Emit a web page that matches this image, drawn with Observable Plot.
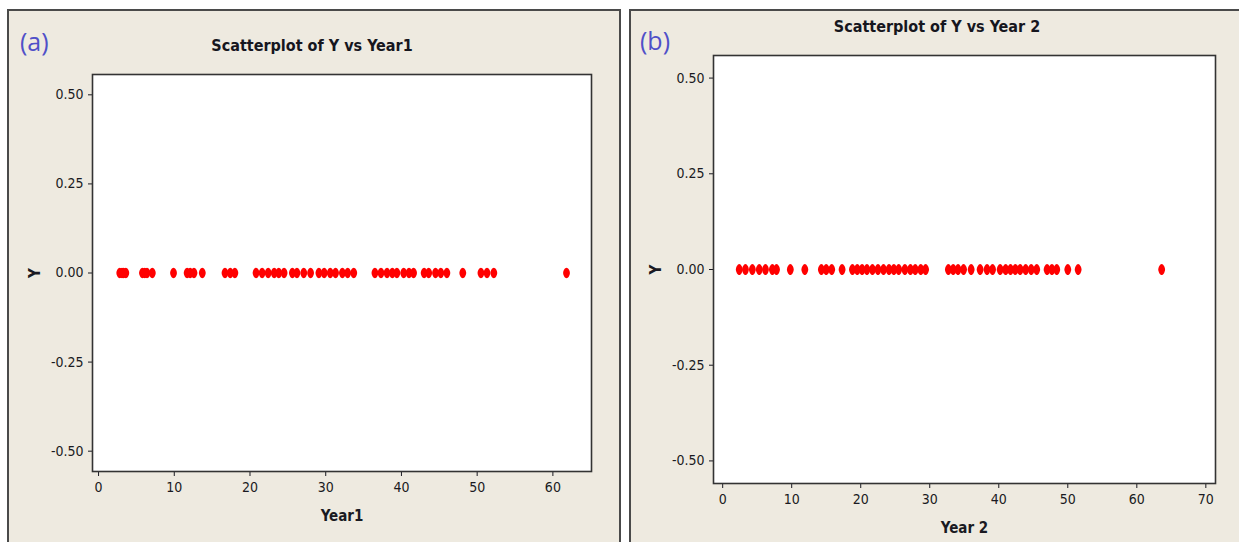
<!DOCTYPE html>
<html>
<head>
<meta charset="utf-8">
<script src="https://cdn.jsdelivr.net/npm/d3@7"></script>
<script src="https://cdn.jsdelivr.net/npm/@observablehq/plot@0.6"></script>
<style>
  html, body { margin: 0; padding: 0; background: #fff; }
  body { width: 1239px; height: 542px; overflow: hidden; position: relative;
         font-family: "Liberation Sans Narrow", "DejaVu Sans Condensed", "Roboto", sans-serif; }
  .panel { position: absolute; background: #EEEAE0; border: 2px solid #4a4a4a; box-sizing: border-box; }
  #pa { left: 7px; top: 9px; width: 614px; height: 545px; }
  #pb { left: 629px; top: 9px; width: 620px; height: 545px; }
  .tag { position: absolute; color: #5050c8; font-family: "Liberation Sans Narrow", "Open Sans", sans-serif; font-size: 25px; line-height: 1; }
  .title { position: absolute; font-weight: bold; font-size: 16px; color: #16161e; line-height: 1; white-space: nowrap; transform: translateX(-50%); }
  .chart { position: absolute; top: 0; }
  .chart svg { overflow: visible; }
  g[aria-label="x-axis label"] text, g[aria-label="y-axis label"] text { font-weight: bold; font-size: 15px; }
</style>
</head>
<body>
<div class="panel" id="pa"></div>
<div class="panel" id="pb"></div>
<div class="tag" style="left:20px;top:29px;">(a)</div>
<div class="tag" style="left:640px;top:28px;">(b)</div>
<div class="title" style="left:312px;top:38px;">Scatterplot of Y vs Year1</div>
<div class="title" style="left:937px;top:19px;">Scatterplot of Y vs Year 2</div>
<div class="chart" id="ca" style="left:0px;"></div>
<div class="chart" id="cb" style="left:620px;"></div>
<script>
// ---- data ----
const year1 = [2.8, 3.1, 3.3, 3.6, 5.8, 6.1, 6.4, 7.1, 9.9, 11.7, 12.1, 12.6, 13.7,
  16.7, 17.4, 18.0, 20.8, 21.6, 22.4, 23.2, 23.8, 24.5, 25.6, 26.2, 27.1, 28.0,
  29.1, 29.8, 30.6, 31.3, 32.2, 32.9, 33.7, 36.5, 37.3, 38.1, 38.8, 39.4, 40.3,
  41.0, 41.6, 43.0, 43.6, 44.5, 45.2, 46.0, 48.1, 50.5, 51.3, 52.2, 61.8];
const year2 = [2.4, 3.3, 4.3, 5.3, 6.2, 7.2, 7.8, 9.8, 11.9, 14.3, 15.0, 15.8, 17.3,
  18.8, 19.5, 20.2, 20.9, 21.7, 22.5, 23.3, 24.1, 24.8, 25.5, 26.4, 27.2, 27.9,
  28.7, 29.4, 32.7, 33.4, 34.1, 34.9, 36.0, 37.3, 38.3, 39.1, 40.2, 41.0, 41.7,
  42.4, 43.1, 43.9, 44.7, 45.5, 47.0, 47.7, 48.4, 50.0, 51.5, 63.6];
const yValue = 0; // every observation has Y = 0.00
const xTicksA = [0, 10, 20, 30, 40, 50, 60];
const xTicksB = [0, 10, 20, 30, 40, 50, 60, 70];
const yTicks = [-0.5, -0.25, 0, 0.25, 0.5];

const rowsA = year1.map(v => ({year: v, y: yValue}));
const rowsB = year2.map(v => ({year: v, y: yValue}));

const FONT = '"Liberation Sans Narrow", "DejaVu Sans Condensed", "Roboto", sans-serif';

function lemonSymbol(rx, ry) {
  const kx = 0.5, ky = 0.42;
  return {
    draw(ctx) {
      ctx.moveTo(rx, 0);
      ctx.bezierCurveTo(rx, ry * ky, rx * kx, ry, 0, ry);
      ctx.bezierCurveTo(-rx * kx, ry, -rx, ry * ky, -rx, 0);
      ctx.bezierCurveTo(-rx, -ry * ky, -rx * kx, -ry, 0, -ry);
      ctx.bezierCurveTo(rx * kx, -ry, rx, -ry * ky, rx, 0);
      ctx.closePath();
    }
  };
}

function makeChart(rows, opts) {
  return Plot.plot({
    width: opts.width, height: 542,
    marginLeft: opts.ml, marginRight: opts.mr, marginTop: opts.mt, marginBottom: opts.mb,
    style: {background: "transparent", fontFamily: FONT, fontSize: "14px", color: "#1a1a22"},
    x: {domain: opts.xDomain},
    y: {domain: opts.yDomain},
    marks: [
      Plot.frame({fill: "white", stroke: "none"}),
      Plot.axisX({ticks: opts.xTicks, tickSize: 5, tickPadding: 6, tickFormat: d => String(d),
        fontSize: 14, label: opts.xLabel, labelAnchor: "center", labelOffset: 49, labelArrow: "none"}),
      Plot.axisY({ticks: yTicks, tickSize: 4, tickPadding: 5, tickFormat: d => d.toFixed(2),
        fontSize: 14, label: "Y", labelAnchor: "center", labelOffset: opts.yLabelOffset, labelArrow: "none"}),
      Plot.dot(rows, {x: "year", y: "y", symbol: lemonSymbol(opts.rx, opts.ry), r: 3,
        fill: "#ff0000", stroke: "none"}),
      Plot.frame({stroke: "#333", strokeWidth: 1.6})
    ]
  });
}

document.getElementById("ca").append(makeChart(rowsA, {
  width: 620, ml: 92, mr: 29, mt: 74, mb: 71,
  xDomain: [-0.8, 65.1], yDomain: [-0.557, 0.557],
  xTicks: xTicksA, xLabel: "Year1", yLabelOffset: 63, rx: 3.4, ry: 5.2
}));
document.getElementById("cb").append(makeChart(rowsB, {
  width: 619, ml: 93, mr: 24, mt: 55, mb: 59,
  xDomain: [-1.33, 71.4], yDomain: [-0.559, 0.559],
  xTicks: xTicksB, xLabel: "Year 2", yLabelOffset: 63, rx: 3.4, ry: 5.6
}));
</script>
</body>
</html>
